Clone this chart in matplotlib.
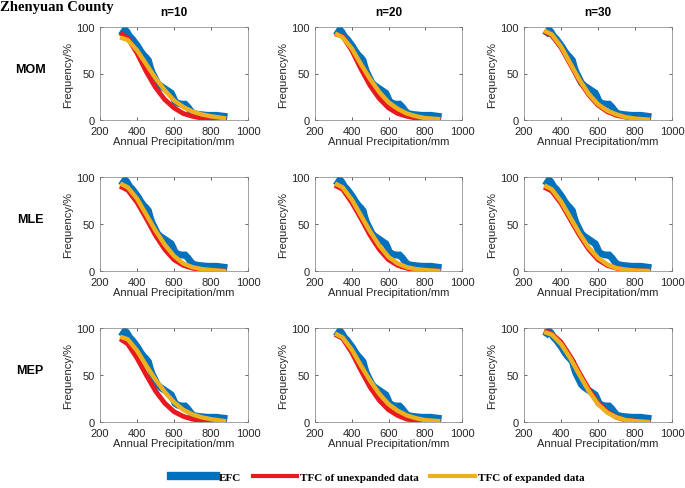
import numpy as np
import matplotlib.pyplot as plt
from matplotlib.lines import Line2D

plt.rcParams['font.family'] = ['Liberation Sans', 'DejaVu Sans']

# empirical frequency curve (same in every panel)
efc_x = [325, 335, 345, 360, 375, 390, 405, 420, 435, 450, 462, 470, 480, 495, 510,
         525, 540, 555, 570, 585, 595, 605, 620, 640, 660, 675, 690, 705, 730, 780, 830, 870]
efc_y = [94, 97, 95, 90, 87, 83, 79, 74, 70, 67, 64, 58, 52, 46, 40,
         37, 35, 33, 31, 29, 25, 20, 18, 17, 17, 14, 10, 7, 6, 5, 5, 4]

# theoretical curves, y read at these x
tfc_x = [320, 350, 400, 450, 500, 550, 600, 650, 700, 750, 800, 870]

methods = ['MOM', 'MLE', 'MEP']
sizes = ['n=10', 'n=20', 'n=30']

red_y = {
    ('MOM', 'n=10'): [92, 88, 72, 52, 35, 22, 13, 7, 4, 2, 1, 0],
    ('MOM', 'n=20'): [92, 90, 75, 55, 37, 23, 13, 7, 4, 2, 1, 0],
    ('MOM', 'n=30'): [94, 91, 78, 60, 42, 27, 16, 9, 5, 3, 1, 0.5],
    ('MLE', 'n=10'): [89, 86, 73, 56, 38, 23, 12, 6, 3, 1, 0.5, 0],
    ('MLE', 'n=20'): [90, 87, 73, 56, 38, 23, 12, 6, 3, 1, 0.5, 0],
    ('MLE', 'n=30'): [88, 85, 72, 55, 38, 23, 12, 6, 3, 1, 0.5, 0],
    ('MEP', 'n=10'): [87, 83, 68, 50, 33, 20, 11, 6, 3, 1.5, 0.5, 0],
    ('MEP', 'n=20'): [92, 89, 74, 55, 37, 23, 13, 7, 3, 2, 1, 0],
    ('MEP', 'n=30'): [96, 94, 85, 70, 52, 35, 20, 11, 5, 2, 1, 0],
}
yellow_y = {
    ('MOM', 'n=10'): [88, 86, 75, 60, 45, 32, 21, 14, 9, 6, 4, 2],
    ('MOM', 'n=20'): [92, 89, 77, 60, 44, 30, 19, 12, 7, 4, 2, 1],
    ('MOM', 'n=30'): [95, 92, 79, 61, 43, 28, 17, 10, 6, 3, 1.5, 0.5],
    ('MLE', 'n=10'): [92, 89, 77, 60, 43, 28, 16, 8, 4, 2, 1, 0],
    ('MLE', 'n=20'): [92, 89, 76, 59, 42, 27, 15, 8, 4, 2, 1, 0],
    ('MLE', 'n=30'): [90, 87, 74, 57, 40, 25, 14, 7, 3, 1.5, 0.5, 0],
    ('MEP', 'n=10'): [90, 88, 76, 60, 45, 32, 21, 13, 8, 5, 3, 1],
    ('MEP', 'n=20'): [93, 90, 77, 60, 44, 30, 19, 12, 7, 4, 2, 1],
    ('MEP', 'n=30'): [95, 93, 83, 68, 50, 33, 19, 10, 5, 2, 1, 0],
}

blue = '#0072BD'
red = '#E8191F'
yellow = '#EDB120'
frame = '#262626'

W, H = 685, 489
fig = plt.figure(figsize=(W / 100, H / 100), dpi=100)

col_x = [(100, 248), (315, 462), (524, 672)]
row_y = [(28, 121), (178, 272), (329, 423)]

for i, m in enumerate(methods):
    for j, n in enumerate(sizes):
        x0, x1 = col_x[j]
        y0, y1 = row_y[i]
        ax = fig.add_axes([x0 / W, 1 - y1 / H, (x1 - x0) / W, (y1 - y0) / H])
        ax.plot(efc_x, efc_y, color=blue, lw=5, solid_joinstyle='miter', zorder=2)
        ax.plot(tfc_x, red_y[(m, n)], color=red, lw=3.5, zorder=3)
        ax.plot(tfc_x, yellow_y[(m, n)], color=yellow, lw=3.2, zorder=4)
        ax.set_xlim(200, 1000)
        ax.set_ylim(0, 100)
        ax.set_xticks([200, 400, 600, 800, 1000])
        ax.set_yticks([0, 50, 100])
        ax.tick_params(direction='in', top=True, right=True, length=2.5, width=0.5,
                       labelsize=8, labelcolor=frame, colors=frame)
        ax.tick_params(axis='x', pad=4)
        ax.tick_params(axis='y', pad=4)
        for s in ax.spines.values():
            s.set_linewidth(0.5)
            s.set_color('#7f7f7f')
        ax.set_xlabel('Annual Precipitation/mm', fontsize=8, color=frame, labelpad=0)
        ax.set_ylabel('Frequency/%', fontsize=8, color=frame, labelpad=2)
        if i == 0:
            ax.set_title(n, fontsize=8.5, fontweight='bold', pad=9)
        if j == 0:
            fig.text(30 / W, 1 - 70 / H - (y0 - 28) / H, m, fontsize=9, fontweight='bold',
                     ha='center', va='center')

fig.text(0, 1 - 8 / H, 'Zhenyuan County', fontsize=10.5, fontweight='bold',
         family='Liberation Serif', ha='left', va='center')

handles = [Line2D([], [], color=blue, lw=6),
           Line2D([], [], color=red, lw=3),
           Line2D([], [], color=yellow, lw=3)]
labels = ['EFC', 'TFC of unexpanded data', 'TFC of expanded data']
fig.legend(handles, labels, loc='center', bbox_to_anchor=(378 / W, 1 - 478 / H),
           ncol=3, frameon=False, handlelength=4, columnspacing=1.0, handletextpad=0.3,
           prop={'family': 'Liberation Serif', 'weight': 'bold', 'size': 8})

fig.savefig('out.png', dpi=100)
